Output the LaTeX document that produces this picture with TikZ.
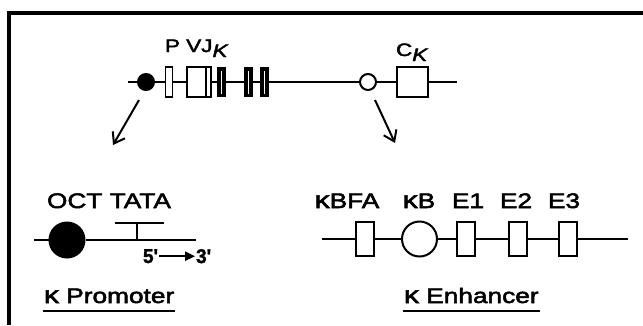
\documentclass[tikz,border=0pt]{standalone}
\usepackage{fontspec}
\setmainfont[FakeStretch=1.25,FakeBold=2.5]{Liberation Sans}
\newfontfamily\primefont[FakeStretch=0.95,FakeBold=1.5]{Liberation Sans}
\usetikzlibrary{
  arrows.meta,
  positioning
}
\newcommand{\subK}{\raisebox{-5pt}{\itshape K}}
\newcommand{\kap}{{\fontsize{24}{26}\selectfont κ}}

\begin{document}
\begin{tikzpicture}[
  x=1pt, y=-1pt,
  line width=2pt,
  node distance=30pt,
  biglabel/.style={
    font=\fontsize{21}{24}\selectfont,
    inner sep=0pt,
    anchor=base
  },
  toplabel/.style={
    font=\fontsize{18}{21}\selectfont,
    inner sep=0pt,
    anchor=base west
  },
  primelabel/.style={
    font=\primefont\bfseries\fontsize{20}{22}\selectfont,
    inner sep=0pt
  },
  exonbox/.style={
    draw,
    fill=white,
    rectangle,
    inner sep=0pt,
    minimum height=30pt
  },
  darkbar/.style={
    exonbox,
    line width=3.5pt,
    minimum width=5pt,
    minimum height=26.5pt
  },
  sitebox/.style={
    exonbox,
    minimum width=18pt,
    minimum height=34pt
  },
  sitedot/.style={
    draw,
    circle,
    inner sep=0pt,
    minimum size=#1
  },
  frame/.style={line width=3.5pt},
  uline/.style={line width=2.5pt},
  arr/.style={-{Straight Barb[length=10pt,width=14pt]}},
  dirarr/.style={-{Triangle[length=10pt,width=9pt]}}
]

\useasboundingbox (0,0) rectangle (643,325);
\draw[frame] (9,325) |- (643,13);

% kappa locus
\coordinate (locstart) at (128,82);
\coordinate (locend) at (457,82);
\node[sitedot=16pt, fill=black] (octtop) at (146,82) {};
\node[exonbox, line width=1.5pt, minimum width=7pt] (pbox) at (169,82) {};
\node[exonbox, minimum width=19pt] (vbox) at (196.5,82) {};
\node[exonbox, minimum width=5pt] (jbox) at (208.5,82) {};
\node[darkbar] (jone) at (221.5,82) {};
\node[darkbar] (jtwo) at (248.5,82) {};
\node[darkbar] (jthree) at (264.5,82) {};
\node[sitedot=16pt, fill=white] (enhtop) at (368,82) {};
\node[exonbox, minimum width=31pt] (cbox) at (412.5,82) {};
\draw (locstart) -- (octtop) -- (pbox) -- (vbox);
\draw (jbox) -- (jone) -- (jtwo) -- (jthree) -- (enhtop) -- (cbox) -- (locend);

\node[toplabel] (vjlabel) at (164,52) {P VJ\subK};
\node[toplabel] (clabel) at (395,56) {C\subK};

\coordinate (promfrom) at (139,100);
\coordinate (promto) at (113,145);
\coordinate (enhfrom) at (375,100);
\coordinate (enhto) at (395,143);
\draw[arr] (promfrom) -- (promto);
\draw[arr] (enhfrom) -- (enhto);

% promoter
\coordinate (promstart) at (34,240);
\coordinate (promend) at (196,240);
\node[sitedot=35pt, fill=black] (octbig) at (67,240) {};
\draw (promstart) -- (octbig) -- (promend);
\coordinate (tatal) at (115,223);
\coordinate (tatar) at (164,223);
\coordinate (tatafoot) at (137,240);
\draw (tatal) -- (tatar);
\draw (tatafoot) -- (tatafoot |- tatal);
\node[biglabel, anchor=base west] (promsites) at (46,208) {OCT TATA};
\node[primelabel, anchor=base west] (five) at (142,263) {5'};
\node[primelabel, right=36pt of five] (three) {3'};
\draw[dirarr] (five) -- (three);
\node[biglabel, anchor=base west] (prom) at (43,303) {\kap{} Promoter};
\draw[uline] ([yshift=-8pt]prom.base west) -- ([yshift=-8pt]prom.base east);

% enhancer
\coordinate (enhstart) at (322,239);
\coordinate (enhend) at (628,239);
\node[sitebox] (kbfa) at (365,239) {};
\node[sitedot=35pt, fill=white] (kb) at (419.5,239) {};
\node[sitebox] (eone) at (466,239) {};
\node[sitebox] (etwo) at (517.5,239) {};
\node[sitebox] (ethree) at (568,239) {};
\draw (enhstart) -- (kbfa) -- (kb) -- (eone) -- (etwo) -- (ethree) -- (enhend);
\node[biglabel] (kbfalabel) at (347,208) {\kap BFA};
\node[biglabel] (kblabel) at (419,208) {\kap B};
\node[biglabel] (eonelabel) at (468,208) {E1};
\node[biglabel] (etwolabel) at (516,208) {E2};
\node[biglabel] (ethreelabel) at (564,208) {E3};
\node[biglabel, anchor=base west] (enh) at (403,303) {\kap{} Enhancer};
\draw[uline] ([yshift=-8pt]enh.base west) -- ([yshift=-8pt]enh.base east);

\end{tikzpicture}
\end{document}
